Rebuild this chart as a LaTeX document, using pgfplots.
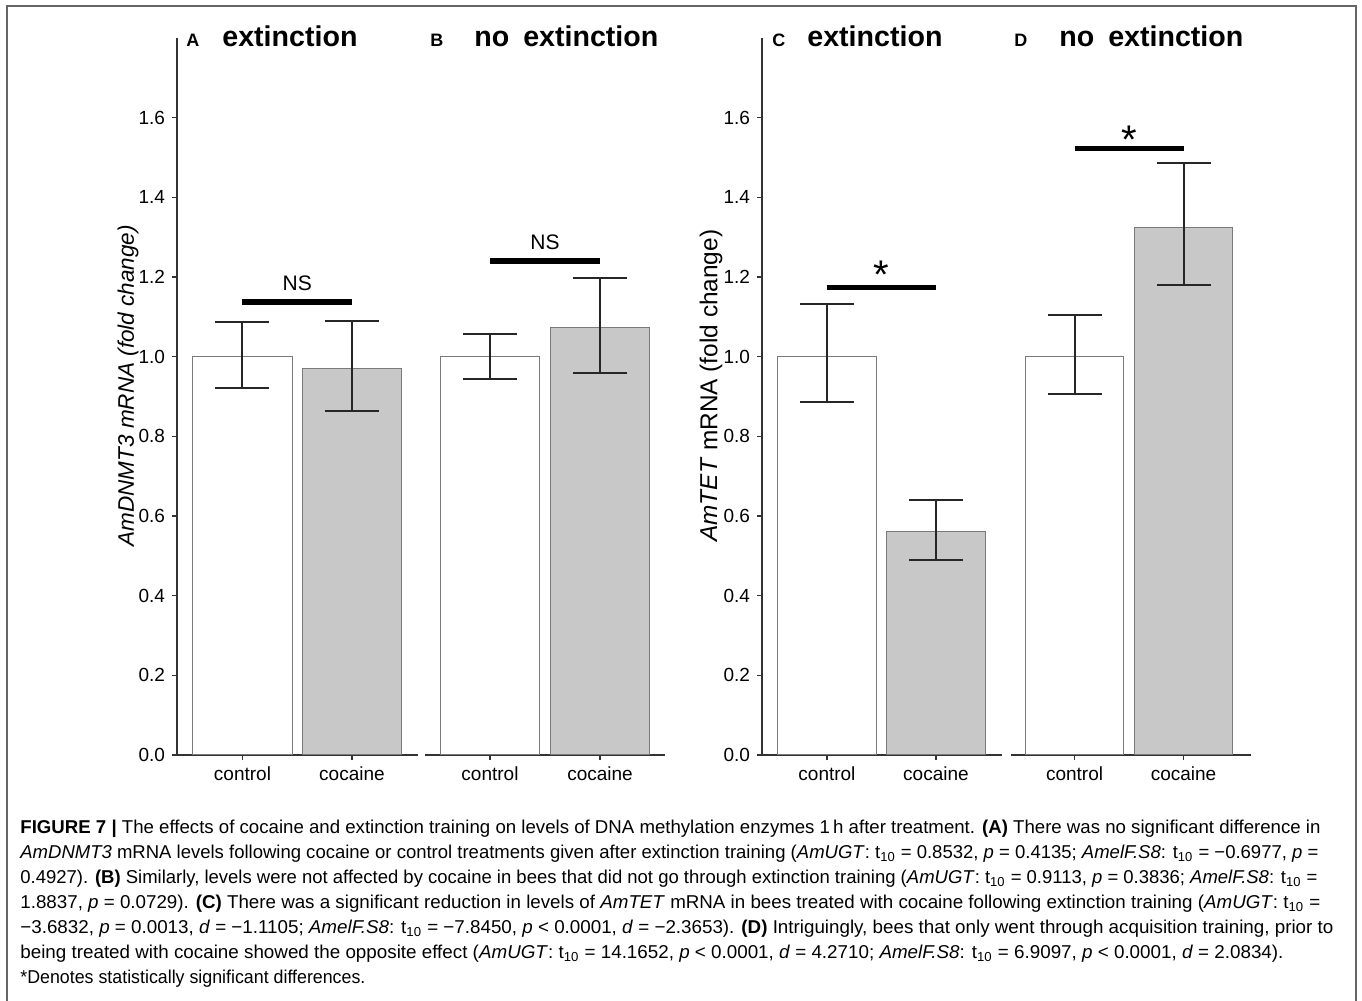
\documentclass[border=0pt]{standalone}
\usepackage{fontspec}
\setmainfont{Liberation Sans}
\usepackage{graphicx}
\usepackage{pgfplots}
\pgfplotsset{compat=1.18}

\definecolor{axcol}{HTML}{333333}
\definecolor{barline}{HTML}{7A7A7A}
\definecolor{cocfill}{HTML}{C8C8C8}
\definecolor{framecol}{HTML}{666666}
\definecolor{errcol}{HTML}{262626}

\pgfplotsset{
  panel/.style={
    scale only axis, anchor=south west, height=358.5pt,
    ymin=0, ymax=1.8, clip=false,
    xtick={1,2}, xticklabels={control,cocaine},
    tick align=outside, major tick length=2.5pt,
    tick style={axcol, line width=0.75pt},
    axis line style={axcol, line width=1pt},
    ticklabel style={font=\fontsize{9.5}{11}\selectfont},
    /pgf/number format/assume math mode=true,
    yticklabel style={/pgf/number format/.cd, fixed, fixed zerofill, precision=1},
    axis x line*=bottom, xtick pos=bottom,
  },
  withy/.style={panel, axis y line*=left, ytick pos=left, ytick={0,0.2,0.4,0.6,0.8,1.0,1.2,1.4,1.6},
    ylabel style={font=\fontsize{11.25}{13}\selectfont, anchor=center}},
  noy/.style={panel, axis y line=none, ytick=\empty},
  ctrl/.style={ybar, bar width=0.905, bar shift=0pt, fill=white, draw=barline, line width=0.5pt,
    error bars/.cd, y dir=both, y explicit,
    error bar style={line width=1pt, errcol},
    error mark options={line width=1pt, errcol, mark size=13.5pt, rotate=90}},
  coc/.style={ybar, bar width=0.905, bar shift=0pt, fill=cocfill, draw=barline, line width=0.5pt,
    error bars/.cd, y dir=both, y explicit,
    error bar style={line width=1pt, errcol},
    error mark options={line width=1pt, errcol, mark size=13.5pt, rotate=90}},
  sig/.style={black, line width=2.75pt, forget plot},
}

\begin{document}
\begin{tikzpicture}
\useasboundingbox (0,0) rectangle (681pt,500.5pt);
% frame
\draw[framecol, line width=1pt] (3.5pt,0) -- (3.5pt,497.5pt) -- (678pt,497.5pt) -- (678pt,0);

% Panel A
\begin{axis}[withy, at={(88.5pt,123pt)}, width=120.5pt, xmin=0.402, xmax=2.603,
  ylabel={\itshape AmDNMT3 mRNA (fold change)},
  ylabel style={at={(axis description cs:-0.203,0.515)}}]
\addplot[ctrl] coordinates {(1,1.0) += (0,0.087) -= (0,0.079)};
\addplot[coc] coordinates {(2,0.970) += (0,0.119) -= (0,0.107)};
\addplot[sig] coordinates {(1,1.1375) (2,1.1375)};
\node[font=\fontsize{10.5}{12}\selectfont] at (axis cs:1.5,1.184) {NS};
\end{axis}

% Panel B
\begin{axis}[noy, at={(212.5pt,123pt)}, width=120pt, xmin=0.409, xmax=2.591]
\addplot[ctrl] coordinates {(1,1.0) += (0,0.058) -= (0,0.055)};
\addplot[coc] coordinates {(2,1.073) += (0,0.124) -= (0,0.114)};
\addplot[sig] coordinates {(1,1.2397) (2,1.2397)};
\node[font=\fontsize{10.5}{12}\selectfont] at (axis cs:1.5,1.288) {NS};
\end{axis}

% Panel C
\begin{axis}[withy, at={(381pt,123pt)}, width=120pt, xmin=0.404, xmax=2.606,
  ylabel={\textit{AmTET} mRNA (fold change)},
  ylabel style={at={(axis description cs:-0.212,0.515)}, font=\fontsize{12.2}{14}\selectfont}]
\addplot[ctrl] coordinates {(1,1.0) += (0,0.131) -= (0,0.114)};
\addplot[coc] coordinates {(2,0.560) += (0,0.080) -= (0,0.071)};
\addplot[sig] coordinates {(1,1.1735) (2,1.1735)};
\node[font=\fontsize{20}{20}\selectfont, anchor=base] at (axis cs:1.5,1.17) {*};
\end{axis}

% Panel D
\begin{axis}[noy, at={(505.5pt,123pt)}, width=120pt, xmin=0.417, xmax=2.619]
\addplot[ctrl] coordinates {(1,1.0) += (0,0.105) -= (0,0.094)};
\addplot[coc] coordinates {(2,1.325) += (0,0.161) -= (0,0.145)};
\addplot[sig] coordinates {(1,1.523) (2,1.523)};
\node[font=\fontsize{20}{20}\selectfont, anchor=base] at (axis cs:1.5,1.511) {*};
\end{axis}

% titles
\begin{scope}[every node/.style={inner sep=0pt, anchor=base west}]
\node[font=\bfseries\fontsize{9}{10}\selectfont] at (93pt,477.25pt) {A};
\node[font=\bfseries\fontsize{14.3}{16}\selectfont] at (111pt,477.25pt) {extinction};
\node[font=\bfseries\fontsize{9}{10}\selectfont] at (215pt,477.25pt) {B};
\node[font=\bfseries\fontsize{14.3}{16}\selectfont] at (237pt,477.25pt) {no\hspace{3pt} extinction};
\node[font=\bfseries\fontsize{9}{10}\selectfont] at (386pt,477.25pt) {C};
\node[font=\bfseries\fontsize{14.3}{16}\selectfont] at (403.5pt,477.25pt) {extinction};
\node[font=\bfseries\fontsize{9}{10}\selectfont] at (507pt,477.25pt) {D};
\node[font=\bfseries\fontsize{14.3}{16}\selectfont] at (529.5pt,477.25pt) {no\hspace{3pt} extinction};
\end{scope}

% caption
\begin{scope}[every node/.style={inner sep=0pt, anchor=base west, font=\fontsize{9.3}{11}\selectfont}]
\node at (10pt,83.5pt) {\resizebox{650pt}{\height}{\textbf{FIGURE 7 |} The effects of cocaine and extinction training on levels of DNA methylation enzymes 1\,h after treatment. \textbf{(A)} There was no significant difference in}};
\node at (10pt,71pt) {\resizebox{649pt}{\height}{\textit{AmDNMT3} mRNA levels following cocaine or control treatments given after extinction training (\textit{AmUGT}: t\textsubscript{10} = 0.8532, \textit{p} = 0.4135; \textit{AmelF.S8}: t\textsubscript{10} = −0.6977, \textit{p} =}};
\node at (10pt,58.5pt) {\resizebox{648.5pt}{\height}{0.4927). \textbf{(B)} Similarly, levels were not affected by cocaine in bees that did not go through extinction training (\textit{AmUGT}: t\textsubscript{10} = 0.9113, \textit{p} = 0.3836; \textit{AmelF.S8}: t\textsubscript{10} =}};
\node at (10pt,46pt) {\resizebox{650pt}{\height}{1.8837, \textit{p} = 0.0729). \textbf{(C)} There was a significant reduction in levels of \textit{AmTET} mRNA in bees treated with cocaine following extinction training (\textit{AmUGT}: t\textsubscript{10} =}};
\node at (10pt,33.5pt) {\resizebox{656.5pt}{\height}{−3.6832, \textit{p} = 0.0013, \textit{d} = −1.1105; \textit{AmelF.S8}: t\textsubscript{10} = −7.8450, \textit{p} < 0.0001, \textit{d} = −2.3653). \textbf{(D)} Intriguingly, bees that only went through acquisition training, prior to}};
\node at (10pt,21pt) {\resizebox{631.5pt}{\height}{being treated with cocaine showed the opposite effect (\textit{AmUGT}: t\textsubscript{10} = 14.1652, \textit{p} < 0.0001, \textit{d} = 4.2710; \textit{AmelF.S8}: t\textsubscript{10} = 6.9097, \textit{p} < 0.0001, \textit{d} = 2.0834).}};
\node at (10pt,8.5pt) {\resizebox{172.5pt}{\height}{*Denotes statistically significant differences.}};
\end{scope}
\end{tikzpicture}
\end{document}
